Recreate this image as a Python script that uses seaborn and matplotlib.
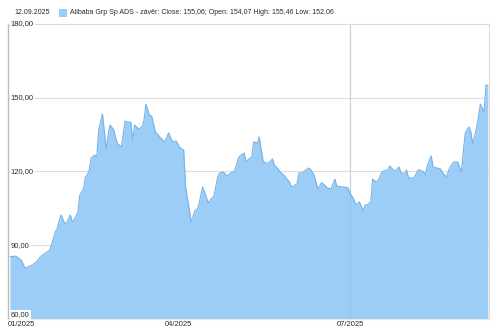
import matplotlib
matplotlib.use("Agg")
import matplotlib.pyplot as plt
import matplotlib.dates as mdates
import matplotlib.patches as mpatches
import seaborn as sns
import pandas as pd

dates = [
    "2025-01-02", "2025-01-05", "2025-01-08", "2025-01-10", "2025-01-14", "2025-01-16",
    "2025-01-18", "2025-01-20", "2025-01-23", "2025-01-24", "2025-01-26", "2025-01-27",
    "2025-01-29", "2025-01-31", "2025-02-01", "2025-02-03", "2025-02-04", "2025-02-05",
    "2025-02-07", "2025-02-08", "2025-02-10", "2025-02-11", "2025-02-12", "2025-02-13",
    "2025-02-14", "2025-02-16", "2025-02-17", "2025-02-18", "2025-02-20", "2025-02-22",
    "2025-02-23", "2025-02-24", "2025-02-26", "2025-02-27", "2025-02-28", "2025-03-02",
    "2025-03-04", "2025-03-05", "2025-03-06", "2025-03-07", "2025-03-08", "2025-03-09",
    "2025-03-11", "2025-03-13", "2025-03-14", "2025-03-15", "2025-03-17", "2025-03-18",
    "2025-03-20", "2025-03-22", "2025-03-23", "2025-03-25", "2025-03-27", "2025-03-29",
    "2025-03-31", "2025-04-02", "2025-04-04", "2025-04-05", "2025-04-08", "2025-04-10",
    "2025-04-11", "2025-04-12", "2025-04-14", "2025-04-15", "2025-04-17", "2025-04-18",
    "2025-04-20", "2025-04-22", "2025-04-23", "2025-04-25", "2025-04-27", "2025-04-29",
    "2025-05-01", "2025-05-03", "2025-05-04", "2025-05-06", "2025-05-07", "2025-05-09",
    "2025-05-10", "2025-05-11", "2025-05-13", "2025-05-14", "2025-05-16", "2025-05-17",
    "2025-05-19", "2025-05-21", "2025-05-22", "2025-05-24", "2025-05-25", "2025-05-27",
    "2025-05-29", "2025-05-30", "2025-05-31", "2025-06-01", "2025-06-03", "2025-06-04",
    "2025-06-06", "2025-06-07", "2025-06-09", "2025-06-10", "2025-06-12", "2025-06-13",
    "2025-06-14", "2025-06-16", "2025-06-17", "2025-06-19", "2025-06-21", "2025-06-23",
    "2025-06-24", "2025-06-27", "2025-06-28", "2025-06-30", "2025-07-01", "2025-07-03",
    "2025-07-04", "2025-07-06", "2025-07-08", "2025-07-09", "2025-07-10", "2025-07-12",
    "2025-07-13", "2025-07-15", "2025-07-16", "2025-07-18", "2025-07-19", "2025-07-21",
    "2025-07-22", "2025-07-24", "2025-07-25", "2025-07-27", "2025-07-28", "2025-07-30",
    "2025-07-31", "2025-08-01", "2025-08-03", "2025-08-04", "2025-08-06", "2025-08-07",
    "2025-08-09", "2025-08-10", "2025-08-11", "2025-08-13", "2025-08-14", "2025-08-16",
    "2025-08-18", "2025-08-19", "2025-08-21", "2025-08-23", "2025-08-25", "2025-08-27",
    "2025-08-28", "2025-08-29", "2025-08-31", "2025-09-02", "2025-09-03", "2025-09-04",
    "2025-09-06", "2025-09-07", "2025-09-08", "2025-09-10", "2025-09-11", "2025-09-12",
]
close = [
    85.3, 85.6, 84.0, 80.7, 82.0, 83.2,
    85.2, 86.4, 88.0, 90.1, 95.4, 96.6,
    102.3, 99.0, 99.0, 102.3, 99.5, 100.3,
    103.5, 110.4, 113.0, 117.8, 118.6, 120.6,
    125.5, 126.7, 125.9, 136.9, 143.4, 129.2,
    134.8, 138.9, 136.9, 133.6, 131.2, 130.0,
    140.5, 140.1, 140.1, 140.1, 132.8, 138.9,
    137.3, 138.1, 140.9, 147.4, 142.6, 142.6,
    136.1, 134.4, 133.4, 132.0, 135.7, 132.0,
    132.4, 129.6, 128.7, 113.7, 99.5, 104.3,
    104.3, 106.4, 113.7, 111.7, 107.2, 108.4,
    110.0, 117.8, 119.4, 119.8, 118.2, 119.4,
    120.2, 125.5, 126.5, 127.5, 123.9, 125.5,
    125.5, 132.0, 131.6, 134.0, 124.3, 123.5,
    123.5, 125.1, 122.6, 121.0, 119.8, 118.6,
    116.5, 115.7, 113.7, 114.1, 114.9, 119.4,
    119.4, 120.2, 121.4, 121.0, 118.6, 115.7,
    112.9, 115.5, 114.9, 113.3, 112.9, 116.9,
    114.1, 113.7, 113.7, 113.3, 111.2, 108.8,
    106.4, 107.6, 103.9, 106.4, 106.4, 107.6,
    116.9, 115.7, 116.5, 119.8, 120.2, 120.6,
    122.2, 120.6, 120.2, 121.8, 119.4, 119.2,
    120.6, 117.4, 117.4, 117.4, 120.6, 120.6,
    119.8, 118.6, 122.6, 126.3, 121.8, 121.4,
    121.0, 119.4, 117.8, 121.8, 123.9, 123.9,
    121.8, 119.8, 135.7, 138.1, 136.1, 131.2,
    137.7, 142.2, 147.4, 144.2, 155.2, 155.06,
]

y_ticks = [60, 90, 120, 150, 180]
x_tick_dates = ["2025-01-01", "2025-04-01", "2025-07-01"]
x_tick_labels = ["01/2025", "04/2025", "07/2025"]
vgrid_dates = ["2025-07-01"]
title_date = "12.09.2025"
legend_text = "Alibaba Grp Sp ADS - závěr: Close: 155,06; Open: 154,07 High: 155,46 Low: 152,06"

df = pd.DataFrame({"date": pd.to_datetime(dates), "close": close})

sns.set_theme(style="white")
plt.rcParams["font.family"] = ["Liberation Sans", "DejaVu Sans"]

fill_c = "#9BCDF6"
line_c = "#74B2EA"
grid_c = "#DCDCDC"
text_c = "#2a2a2a"

fig = plt.figure(figsize=(5.0, 3.32), dpi=100)
ax = fig.add_axes([0.016, 0.039, 0.962, 0.889])

ax.fill_between(df["date"], df["close"], 60, color=fill_c, linewidth=0, zorder=2)
sns.lineplot(data=df, x="date", y="close", ax=ax, color=line_c, linewidth=0.8, zorder=3)

ax.set_xlim(pd.Timestamp(dates[0]), pd.Timestamp(dates[-1]) + pd.Timedelta(days=0.6))
ax.set_ylim(y_ticks[0], y_ticks[-1])
ax.set_xlabel("")
ax.set_ylabel("")

for v in y_ticks[1:]:
    ax.axhline(v, color=grid_c, linewidth=0.8, zorder=1)
for d in vgrid_dates:
    ax.axvline(pd.Timestamp(d), color=grid_c, linewidth=0.8, zorder=1)
    ax.axvline(pd.Timestamp(d), color="#A0A8B0", linewidth=0.8, alpha=0.25, zorder=2.5)

ax.set_yticks([])
ax.set_xticks(pd.to_datetime(x_tick_dates))
ax.set_xticklabels(x_tick_labels, fontsize=5.5, color=text_c)
ax.tick_params(axis="x", length=0, pad=1.5)
for i, lab in enumerate(ax.get_xticklabels()):
    if i == 0:
        lab.set_horizontalalignment("left")
        lab.set_x(mdates.date2num(pd.Timestamp(dates[0])))

for name, sp in ax.spines.items():
    sp.set_visible(True)
    sp.set_linewidth(0.8)
    sp.set_color(grid_c)
ax.spines["left"].set_color("#BDBDBD")
ax.spines["left"].set_linewidth(1.0)
ax.spines["bottom"].set_color("#E6E6E6")

trans = ax.get_yaxis_transform()
for v in y_ticks:
    lbl = f"{v:.2f}".replace(".", ",")
    va = "bottom" if v == y_ticks[0] else "center"
    ax.text(0.006, v + (0.3 if v == y_ticks[0] else 0), lbl, transform=trans, fontsize=5.5,
            color=text_c, ha="left", va=va, zorder=5,
            bbox=dict(facecolor="white", edgecolor="none", pad=1.0))

fig.text(0.028, 0.962, title_date, fontsize=5.0, color=text_c, ha="left", va="center")
fig.patches.append(mpatches.Rectangle((0.117, 0.948), 0.016, 0.026, transform=fig.transFigure,
                                      facecolor=fill_c, edgecolor="none"))
fig.text(0.14, 0.962, legend_text, fontsize=5.0, color=text_c, ha="left", va="center")

fig.savefig("out.png", dpi=100)
